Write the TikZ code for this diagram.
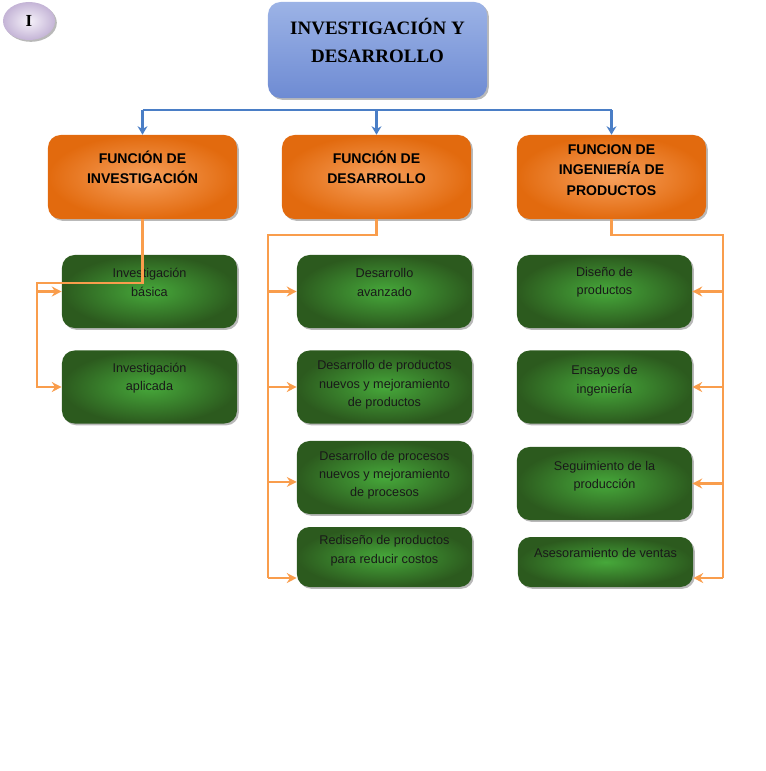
\documentclass[tikz,border=0pt]{standalone}
\usepackage{fontspec}
\setmainfont{Liberation Sans}
\newfontfamily\titlefont{Liberation Serif}
\usetikzlibrary{arrows.meta, shadows, shapes.geometric}
\definecolor{linkorange}{HTML}{F99D4C}
\definecolor{linkblue}{HTML}{4A7EC6}
\definecolor{titletop}{HTML}{9CB3E6}
\definecolor{titlebottom}{HTML}{6E8BD3}
\definecolor{orangein}{HTML}{F7A05C}
\definecolor{orangeout}{HTML}{E26A0E}
\definecolor{greenin}{HTML}{46A83A}
\definecolor{greenout}{HTML}{2C5A1E}
\definecolor{markin}{HTML}{F6F2FA}
\definecolor{markout}{HTML}{C4B4D6}
\tikzset{boxshadow/.style={drop shadow={shadow xshift=1.3pt, shadow yshift=-1.3pt, opacity=0.55}}}
\tikzset{titlebox/.style={rounded corners=9pt, boxshadow, top color=titletop, bottom color=titlebottom, minimum width=5.475cm, minimum height=2.4cm}}
\tikzset{funcbox/.style={rounded corners=9pt, boxshadow, inner color=orangein, outer color=orangeout, minimum width=4.725cm, minimum height=2.1cm}}
\tikzset{itembox/.style={rounded corners=9pt, boxshadow, inner color=greenin, outer color=greenout, minimum width=4.375cm, minimum height=1.825cm}}
\tikzset{titletext/.style={yshift=6.5pt, align=center, font=\titlefont\bfseries\fontsize{13.5}{20}\selectfont}}
\tikzset{functext/.style={yshift=7pt, align=center, font=\bfseries\fontsize{10}{14.5}\selectfont}}
\tikzset{itemtext/.style={yshift=6.5pt, align=center, text=black!90, font=\fontsize{9}{13}\selectfont}}
\tikzset{orangelink/.style={draw=linkorange, line width=2pt, -{Stealth[length=7pt, width=7pt]}}}
\tikzset{orangebus/.style={draw=linkorange, line width=2pt}}
\tikzset{bluelink/.style={draw=linkblue, line width=2pt}}

\begin{document}
\begin{tikzpicture}[x=0.025cm, y=-0.025cm]
\useasboundingbox (0,0) rectangle (765,771);

% marca
\node[ellipse, minimum width=1.3cm, minimum height=0.95cm, boxshadow, inner color=markin, outer color=markout, font=\titlefont\bfseries\fontsize{12}{14}\selectfont] (mark) at (29,21) {I};

% titulo y funciones
\node[titlebox, label={[titletext]center:{INVESTIGACIÓN Y\\DESARROLLO}}] (title) at (377.5,50) {};
\node[funcbox, label={[functext]center:{FUNCIÓN DE\\INVESTIGACIÓN}}] (fi) at (142.5,177) {};
\node[funcbox, label={[functext]center:{FUNCIÓN DE\\DESARROLLO}}] (fd) at (376.5,177) {};
\node[funcbox, label={[functext,yshift=-2pt]center:{FUNCION DE\\INGENIERÍA DE\\PRODUCTOS}}] (fp) at (611.5,177) {};

% investigacion
\node[itembox, label={[itemtext]center:{Investigación\\básica}}] (ib) at (149.5,291.5) {};
\node[itembox, label={[itemtext]center:{Investigación\\aplicada}}] (ia) at (149.5,387) {};

% desarrollo
\node[itembox, label={[itemtext]center:{Desarrollo\\avanzado}}] (da) at (384.5,291.5) {};
\node[itembox, label={[itemtext,yshift=-5pt]center:{Desarrollo de productos\\nuevos y mejoramiento\\de productos}}] (dp) at (384.5,387) {};
\node[itembox, label={[itemtext,yshift=-5pt]center:{Desarrollo de procesos\\nuevos y mejoramiento\\de procesos}}] (dq) at (384.5,477.5) {};
\node[itembox, minimum height=1.5cm, label={[itemtext,yshift=-2pt]center:{Rediseño de productos\\para reducir costos}}] (dr) at (384.5,557) {};

% ingenieria de productos
\node[itembox, label={[itemtext]center:{Diseño de\\productos}}] (pa) at (604.5,291.5) {};
\node[itembox, label={[itemtext,yshift=-2pt]center:{Ensayos de\\ingeniería}}] (pb) at (604.5,387) {};
\node[itembox, label={[itemtext,yshift=-1.5pt]center:{Seguimiento de la\\producción}}] (pc) at (604.5,483.5) {};
\node[itembox, minimum height=1.25cm, label={[itemtext]center:{Asesoramiento de ventas}}] (pd) at (605.5,562) {};

% enlaces azules
\coordinate (bus) at (377,110);
\draw[bluelink] (fi.north |- bus) -- (fp.north |- bus);
\foreach \n in {fi,fd,fp}
  \draw[bluelink, -{Stealth[length=6pt, width=7pt]}] (\n.north |- bus) -- (\n.north);

% enlaces naranjas
\coordinate (lbus) at (37,283);
\draw[orangelink] (fi.south) |- (lbus) |- (ia.west);
\draw[orangelink] (lbus |- ib.west) -- (ib.west);

\coordinate (mbus) at (268,235);
\coordinate (mend) at ([yshift=-0.525cm]dr.west);
\coordinate (mq) at ([yshift=-0.11cm]dq.west);
\draw[orangebus] (fd.south) |- (mbus) -- (mbus |- mend);
\foreach \n in {da,dp,mq,mend}
  \draw[orangelink] (mbus |- \n) -- (\n);

\coordinate (rbus) at (723,235);
\coordinate (rend) at ([yshift=-0.4cm]pd.east);
\draw[orangebus] (fp.south) |- (rbus) -- (rbus |- rend);
\foreach \n in {pa.east,pb.east,pc.east,rend}
  \draw[orangelink] (rbus |- \n) -- (\n);
\end{tikzpicture}
\end{document}
